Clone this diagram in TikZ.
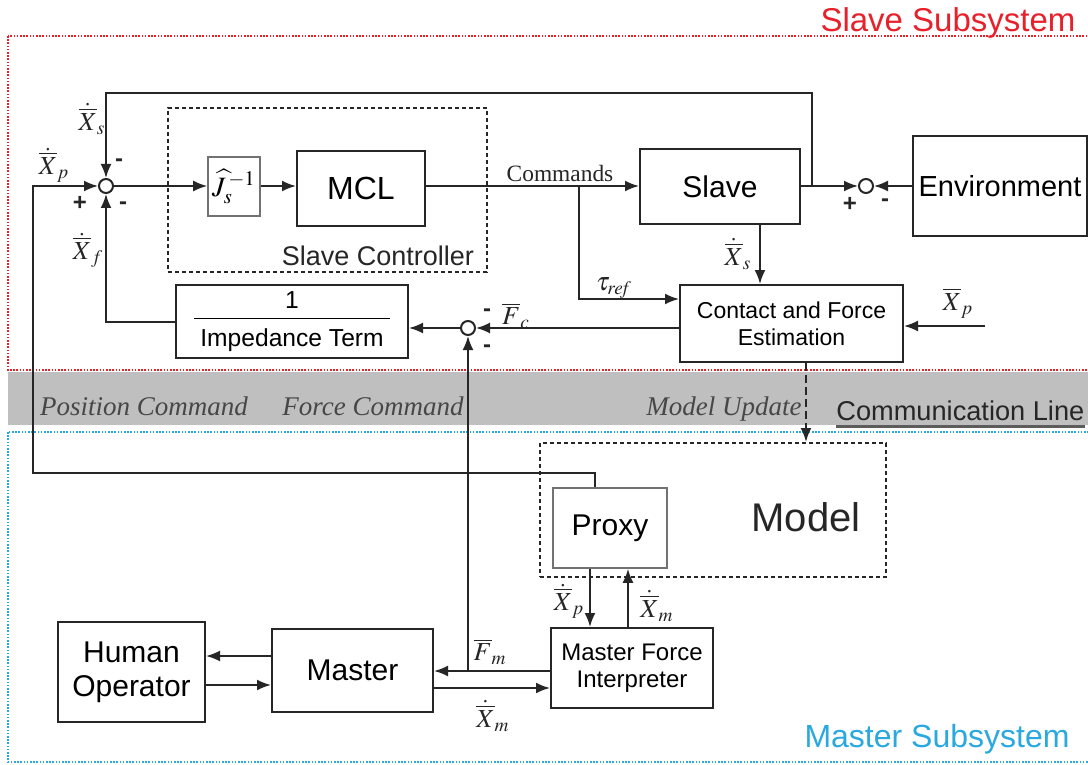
\documentclass[tikz,border=0pt]{standalone}
\usepackage{mathptmx}
\usepackage{fontspec}
\setmainfont{Liberation Serif}
\setsansfont{Liberation Sans}
\usetikzlibrary{arrows.meta}

\definecolor{slavered}{RGB}{232,32,42}
\definecolor{masterblue}{RGB}{41,169,224}
\definecolor{band}{RGB}{191,191,191}
\definecolor{ink}{RGB}{38,38,38}

\tikzstyle{block}=[draw=ink, line width=1pt, fill=white, inner sep=0pt, align=center, font=\sffamily\fontsize{15}{17}\selectfont]
\tikzstyle{thinblock}=[block, draw=ink!65, line width=0.8pt]
\tikzstyle{group}=[draw=ink, line width=1pt, dash pattern=on 2pt off 1.5pt]
\tikzstyle{sumpt}=[circle, draw=ink, line width=1pt, fill=white, minimum size=7pt, inner sep=0pt]
\tikzstyle{sig}=[inner sep=0pt, text=ink, font=\fontsize{13}{15}\selectfont]
\tikzstyle{sgn}=[inner sep=0pt, text=ink, font=\sffamily\bfseries\fontsize{12}{14}\selectfont]
\tikzstyle{wire}=[draw=ink, line width=1pt]
\tikzstyle{arr}=[wire, -{Latex[length=7pt,width=5.5pt]}]
\tikzstyle{cmdtext}=[inner sep=0pt, anchor=base, text=ink!85, font=\itshape\fontsize{13.5}{15}\selectfont]
\tikzstyle{region}=[line width=0.9pt, dash pattern=on 0.8pt off 0.8pt]

\begin{document}
\begin{tikzpicture}[x=0.5pt, y=-0.5pt]
\useasboundingbox (0,0) rectangle (1088,765);
\clip (0,0) rectangle (1088,765);
\fill[white] (0,0) rectangle (1088,765);

\fill[band] (8,372) rectangle (1088,425);
\draw[region, slavered] (8,36) rectangle (1100,370);
\draw[region, masterblue] (8,432) rectangle (1100,762);
\node[inner sep=0pt, text=slavered, font=\sffamily\fontsize{16.5}{18}\selectfont] (slavesys) at (948,23) {Slave Subsystem};
\node[inner sep=0pt, text=masterblue, font=\sffamily\fontsize{16}{18}\selectfont] (mastersys) at (937,739) {Master Subsystem};

\node[cmdtext] (poscmd) at (144,415) {Position Command};
\node[cmdtext] (forcecmd) at (373,415) {Force Command};
\node[cmdtext] (modelupd) at (724,415) {Model Update};
\node[inner sep=0pt, anchor=west, text=ink, font=\sffamily\fontsize{13.6}{16}\selectfont] (comm) at (836,411) {Communication Line};
\draw[line width=1.5pt, ink!75] ([yshift=-2.5pt]comm.south west) -- ([yshift=-2.5pt]comm.south east);

\node[group, minimum width=159.5pt, minimum height=82pt] (ctrl) at (327.5,190) {};
\node[inner sep=0pt, text=ink, font=\sffamily\fontsize{13.5}{15}\selectfont] at (378,256) {Slave Controller};
\node[group, minimum width=173pt, minimum height=67pt] (model) at (713,510) {};
\node[inner sep=0pt, text=ink, font=\sffamily\fontsize{20}{22}\selectfont] at (806,517) {Model};

\node[sumpt] (s1) at (106,186) {};
\node[thinblock, minimum width=26pt, minimum height=29.5pt, font=\fontsize{14}{16}\selectfont] (j) at (234,186.5) {$\widehat{J}_{s}^{\,-1}$};
\node[block, minimum width=64pt, minimum height=37.5pt, font=\sffamily\fontsize{16}{18}\selectfont] (mcl) at (361,188.5) {MCL};
\node[block, minimum width=80pt, minimum height=37.5pt] (slave) at (720,186.5) {Slave};
\node[sumpt] (s2) at (866,186) {};
\node[block, minimum width=87pt, minimum height=50pt, font=\sffamily\fontsize{14.5}{17}\selectfont] (env) at (1000,186) {Environment};
\node[block, minimum width=111.5pt, minimum height=38.5pt, font=\sffamily\fontsize{11.5}{13.5}\selectfont] (contact) at (791.5,323.5) {Contact and Force\\Estimation};
\node[sumpt] (s3) at (468,328) {};
\node[block, minimum width=116pt, minimum height=36.5pt, font=\sffamily\fontsize{12.3}{13}\selectfont] (imp) at (292,321.5) {1\\[-7.5pt]\rule{98pt}{0.8pt}\\[0.5pt]Impedance Term};

\node[thinblock, minimum width=57pt, minimum height=40pt] (proxy) at (610,528) {Proxy};
\node[block, minimum width=73.5pt, minimum height=50pt] (human) at (131.5,672) {Human\\Operator};
\node[block, minimum width=80.5pt, minimum height=41.5pt] (master) at (352.5,670.5) {Master};
\node[block, minimum width=81pt, minimum height=40pt, font=\sffamily\fontsize{12}{13.5}\selectfont] (mfi) at (632,668) {Master Force\\Interpreter};

\coordinate (fb) at (812,186);
\coordinate (cb) at (579,186);
\coordinate (xpin) at (985,326);
\coordinate (fm) at (468,671);

\draw[arr] (s1) -- (j.west |- s1);
\draw[arr] (j.east |- s1) -- (mcl.west |- s1);
\draw[arr] (mcl.east |- s1) -- (slave.west |- s1);
\draw[arr] (cb) |- ([yshift=-7.5pt]contact.north west);
\draw[arr] (slave.east |- s2) -- (s2);
\draw[arr] (env.west |- s2) -- (s2);
\draw[arr] (fb) -- (812,93) -| (s1);
\draw[arr] ([xshift=20pt]slave.south) -- ([xshift=20pt]slave.south |- contact.north);
\draw[arr] (xpin) -- (contact.east |- xpin);
\draw[arr] (contact.west |- s3) -- (s3);
\draw[arr] (s3) -- (imp.east |- s3);
\draw[arr] (imp.west) -| (s1);
\draw[arr] ([xshift=-7.5pt]proxy.north) -- ++(0,-14) -| (33,186) -- (s1);
\draw[arr] (fm) -- (s3);
\draw[arr, dash pattern=on 4pt off 2pt] ([xshift=7.25pt]contact.south) -- ([xshift=7.25pt]contact.south |- model.north);
\draw[arr] ([xshift=-10pt]proxy.south) -- ([xshift=-10pt]proxy.south |- mfi.north);
\draw[arr] ([xshift=9pt]proxy.south |- mfi.north) -- ([xshift=9pt]proxy.south);
\draw[arr] (mfi.west |- fm) -- (master.east |- fm);
\draw[arr] ([yshift=-8.75pt]master.east) -- ([yshift=-8.75pt]master.east -| mfi.west);
\draw[arr] ([yshift=7.25pt]master.west) -- ([yshift=7.25pt]master.west -| human.east);
\draw[arr] ([yshift=-7.25pt]master.west -| human.east) -- ([yshift=-7.25pt]master.west);

\node[sig] at (92,119) {$\dot{\overline{X}}_{s}$};
\node[sig] at (54,165) {$\dot{\overline{X}}_{p}$};
\node[sig] at (88,250) {$\dot{\overline{X}}_{f}$};
\node[sgn] at (80,203) {+};
\node[sgn] at (119,163) {-};
\node[sgn] at (123,206) {-};
\node[inner sep=0pt, text=ink, font=\fontsize{11.7}{13}\selectfont] at (560,173) {Commands};
\node[sig] at (614,288) {$\tau_{\mathit{ref}}$};
\node[sig] at (738,254) {$\dot{\overline{X}}_{s}$};
\node[sgn] at (850,204) {+};
\node[sgn] at (885,203) {-};
\node[sig] at (958,303) {$\overline{X}_{p}$};
\node[sgn] at (487,313) {-};
\node[sgn] at (487,349) {-};
\node[sig] at (516,316) {$\overline{F}_{c}$};
\node[sig] at (490,652) {$\overline{F}_{m}$};
\node[sig] at (493,716) {$\dot{\overline{X}}_{m}$};
\node[sig] at (569,601) {$\dot{\overline{X}}_{p}$};
\node[sig] at (657,606) {$\dot{\overline{X}}_{m}$};
\end{tikzpicture}
\end{document}
